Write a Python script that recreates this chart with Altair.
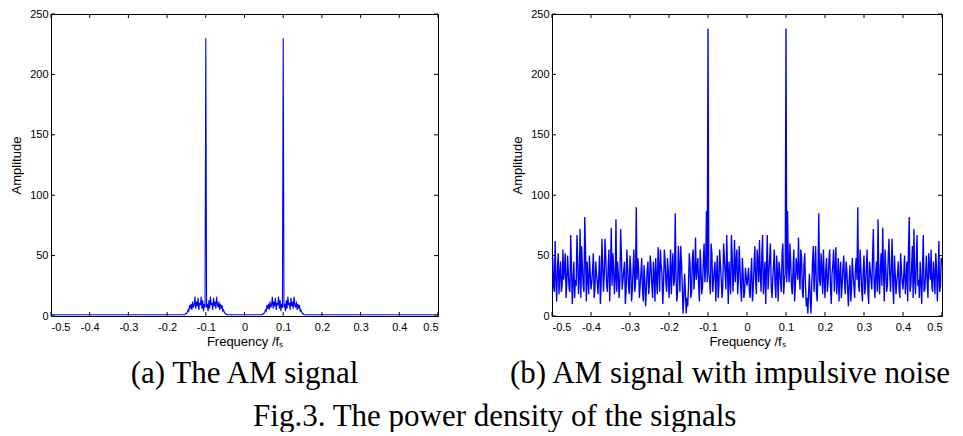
import altair as alt
import pandas as pd

# frequency grid step (normalised frequency f/fs), positive half 0 .. 0.5
STEP = 0.002
N_HALF = 251

# (a) AM signal, positive-frequency half (spectrum is symmetric about 0)
am_pos = ([1] * 23 +
          [1, 2, 2, 3, 5, 4, 9, 6, 10, 5,
           12, 7, 9, 16, 6, 12, 8, 15, 5, 11,
           9, 16, 6, 13, 4, 10, 7, 230, 7, 10,
           4, 13, 6, 16, 9, 11, 5, 15, 8, 12,
           6, 16, 9, 7, 12, 5, 10, 6, 9, 4,
           5, 3, 2, 2, 1] +
          [1] * 173)

# (b) AM signal with impulsive noise, positive-frequency half:
# values at 0, 0.004, 0.008, ... (even samples)
noisy_even = [25, 40, 15, 48, 22, 58, 18, 45, 63, 20,
              67, 30, 10, 67, 35, 60, 15, 42, 25, 50,
              12, 38, 20, 60, 30, 238, 87, 28, 45, 18,
              55, 25, 40, 65, 22, 48, 15, 52, 8, 2,
              35, 2, 45, 20, 58, 12, 85, 25, 40, 55,
              15, 48, 28, 55, 10, 42, 20, 57, 30, 12,
              45, 25, 50, 18, 38, 8, 42, 22, 35, 15,
              48, 90, 20, 40, 12, 50, 25, 55, 10, 38,
              22, 72, 15, 45, 80, 18, 52, 73, 12, 40,
              25, 64, 20, 64, 10, 35, 28, 45, 15, 38,
              22, 50, 30, 12, 82, 25, 58, 72, 18, 67,
              30, 45, 10, 67, 22, 50, 15, 40, 55, 20,
              35, 52, 12, 62, 25, 42]
# values at 0.002, 0.006, 0.010, ... (odd samples)
noisy_odd = [32, 20, 35, 12, 40, 30, 55, 28, 35, 50,
             18, 45, 40, 22, 48, 25, 30, 55, 15, 35,
             45, 28, 52, 18, 35, 28, 40, 60, 25, 38,
             12, 48, 30, 35, 55, 20, 42, 25, 15, 20,
             15, 25, 58, 40, 20, 35, 30, 52, 18, 30,
             38, 20, 45, 25, 35, 55, 40, 18, 48, 35,
             15, 40, 28, 45, 22, 30, 12, 48, 25, 40,
             30, 25, 55, 22, 38, 18, 40, 20, 45, 30,
             50, 28, 35, 20, 30, 40, 25, 38, 55, 20,
             48, 35, 42, 25, 50, 18, 35, 22, 52, 28,
             35, 18, 45, 55, 20, 40, 15, 30, 45, 25,
             15, 28, 40, 20, 35, 28, 52, 30, 25, 45,
             18, 40, 30, 20, 48]

x_ticks = [-0.5, -0.4, -0.3, -0.2, -0.1, 0, 0.1, 0.2, 0.3, 0.4, 0.5]
y_ticks = [0, 50, 100, 150, 200, 250]

captions = ["(a) The AM signal", "(b) AM signal with impulsive noise"]
fig_caption = "Fig.3. The power density of the signals"

noisy_pos = []
for i, v in enumerate(noisy_even):
    noisy_pos.append(v)
    if i < len(noisy_odd):
        noisy_pos.append(noisy_odd[i])

pos_f = [round(i * STEP, 3) for i in range(N_HALF)]
freq = [-f for f in reversed(pos_f[1:])] + pos_f


def mirror(vals):
    return list(reversed(vals[1:])) + list(vals)


W1, W2, H = 387, 390, 302
TICK = 4
SERIF = "Liberation Serif, Times New Roman, serif"
SANS = "Liberation Sans, Arial, sans-serif"


def panel(values, W, sw, caption, dx):
    df = pd.DataFrame({"freq": freq, "amp": mirror(values)})
    xs = alt.Scale(domain=[-0.5, 0.5], nice=False, zero=False)
    ys = alt.Scale(domain=[0, 250], nice=False)
    X = alt.X("freq:Q", scale=xs, axis=alt.Axis(
        values=x_ticks, title="Frequency /fₛ",
        labelExpr="replace(format(datum.value, '.1~f'), '−', '-')",
        labelPadding=5, titlePadding=3))
    Y = alt.Y("amp:Q", scale=ys, axis=alt.Axis(
        values=y_ticks, title="Amplitude", labelPadding=3, titlePadding=6))
    line = alt.Chart(df).mark_line(color="#0000ff", strokeWidth=sw, clip=True).encode(x=X, y=Y)
    yt = pd.DataFrame({"amp": y_ticks})
    xt = pd.DataFrame({"freq": x_ticks})
    tl = alt.Chart(yt).mark_rule(color="black", strokeWidth=1).encode(y=Y, x=alt.value(0), x2=alt.value(TICK))
    tr = alt.Chart(yt).mark_rule(color="black", strokeWidth=1).encode(y=Y, x=alt.value(W - TICK), x2=alt.value(W))
    tb = alt.Chart(xt).mark_rule(color="black", strokeWidth=1).encode(x=X, y=alt.value(H - TICK), y2=alt.value(H))
    tt = alt.Chart(xt).mark_rule(color="black", strokeWidth=1).encode(x=X, y=alt.value(0), y2=alt.value(TICK))
    return alt.layer(line, tl, tr, tb, tt).properties(
        width=W, height=H,
        title=alt.TitleParams(caption, orient="bottom", anchor="middle", frame="group",
                              font=SERIF, fontSize=31, fontWeight="normal",
                              color="black", offset=11, dx=dx))


pa = panel(am_pos, W1, 1.1, captions[0], 0)
pb = panel(noisy_pos, W2, 1.35, captions[1], -17)

chart = alt.hconcat(pa, pb, spacing=69).properties(
    title=alt.TitleParams(fig_caption, orient="bottom", anchor="middle",
                          font=SERIF, fontSize=31, fontWeight="normal",
                          color="black", offset=12, dx=14),
    padding={"left": 2, "top": -1, "right": 0, "bottom": 0},
).configure_axis(
    labelFont=SANS, labelFontSize=11, labelColor="black",
    titleFont=SANS, titleFontSize=13, titleFontWeight="normal", titleColor="black",
    domain=False, ticks=False, grid=False,
).configure_view(stroke="black", strokeWidth=1)

chart.save("out.html", embed_options={"renderer": "svg", "actions": False})
